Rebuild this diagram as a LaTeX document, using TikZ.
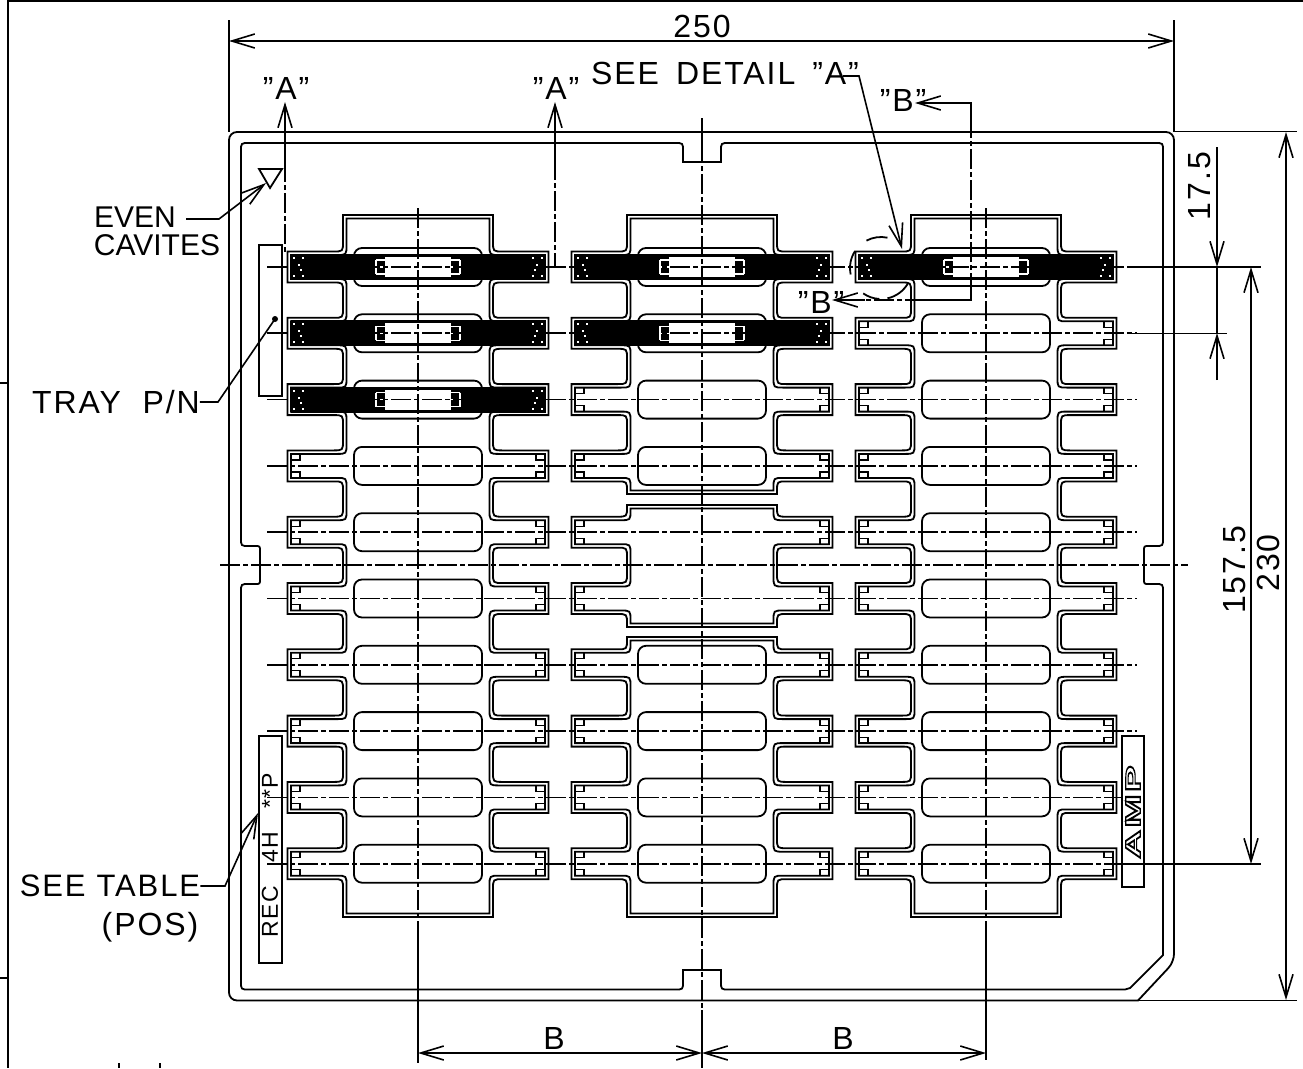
\documentclass[tikz,border=0pt]{standalone}
\usepackage{fontspec}
\usepackage{graphicx}
\setmainfont{Liberation Sans}[LetterSpace=6]
\usetikzlibrary{arrows.meta}

\tikzset{
    tray/.style={line width=1.8pt},
    thinline/.style={line width=1.6pt},
    centerline/.style={line width=1.7pt, dash pattern=on 20pt off 3pt on 5pt off 3pt},
    cadtext/.style={inner sep=0pt, font=\fontsize{32}{32}\selectfont},
    smalltext/.style={inner sep=0pt, font=\fontsize{23}{23}\selectfont},
    >={Straight Barb[length=23pt,width=14pt]}
}

% one connected outline of a cavity column: center, first row, last row, top, bottom
\newcommand{\cavityblock}[5]{
    \foreach \d in {0,3.5} {
        \draw[tray] ({#1-75+\d},{#4+\d}) -- ({#1+75-\d},{#4+\d})
            \foreach \k [evaluate=\k as \Y using 267+66.3*(\k-1)] in {#2,...,#3} {
                -- ({#1+75-\d},{\Y-25.5+\d}) .. controls ({#1+75-\d},{\Y-15.5+\d}) .. ({#1+85-\d},{\Y-15.5+\d})
                -- ({#1+130.5-\d},{\Y-15.5+\d}) -- ({#1+130.5-\d},{\Y+15.5-\d})
                -- ({#1+85-\d},{\Y+15.5-\d}) .. controls ({#1+75-\d},{\Y+15.5-\d}) .. ({#1+75-\d},{\Y+25.5-\d})
            }
            -- ({#1+75-\d},{#5-\d}) -- ({#1-75+\d},{#5-\d})
            \foreach \k [evaluate=\k as \Y using 267+66.3*(\k-1)] in {#3,...,#2} {
                -- ({#1-75+\d},{\Y+25.5-\d}) .. controls ({#1-75+\d},{\Y+15.5-\d}) .. ({#1-85+\d},{\Y+15.5-\d})
                -- ({#1-130.5+\d},{\Y+15.5-\d}) -- ({#1-130.5+\d},{\Y-15.5+\d})
                -- ({#1-85+\d},{\Y-15.5+\d}) .. controls ({#1-75+\d},{\Y-15.5+\d}) .. ({#1-75+\d},{\Y-25.5+\d})
            }
            -- cycle;
    }
}

% empty cavity: small tabs at both bar ends
\newcommand{\cavitytabs}[2]{
    \foreach \s in {-1,1} {
        \draw[line width=1.2pt] ({#1+\s*127},{#2-6}) -- ({#1+\s*118},{#2-6}) -- ({#1+\s*118},{#2-12});
        \draw[line width=1.2pt] ({#1+\s*127},{#2+6}) -- ({#1+\s*118},{#2+6}) -- ({#1+\s*118},{#2+12});
    }
}

% cavity holding a part
\newcommand{\filledcavity}[2]{
    \fill ({#1-127.5},{#2-13}) rectangle ({#1+127.5},{#2+13});
    \fill[white] ({#1-33},{#2-10}) rectangle ({#1+33},{#2+10});
    \foreach \s in {-1,1} {
        \draw[white, line width=1.1pt] ({#1+\s*42},{#2-7}) -- ({#1+\s*33},{#2-7});
        \draw[white, line width=1.1pt] ({#1+\s*42},{#2}) -- ({#1+\s*33},{#2});
        \draw[white, line width=1.1pt] ({#1+\s*42},{#2+7}) -- ({#1+\s*33},{#2+7});
        \draw[white, line width=1.1pt] ({#1+\s*42},{#2-7}) -- ({#1+\s*42},{#2+7});
        \foreach \dx/\dy in {124/-9,115/-9,124/9,115/9,119/-2,117/3} {
            \fill[white] ({#1+\s*\dx-1},{#2+\dy-1}) rectangle ({#1+\s*\dx+1},{#2+\dy+1});
        }
    }
}

\begin{document}
\begin{tikzpicture}[x=1pt, y=-1pt]
    \useasboundingbox (0,0) rectangle (1303,1068);

    % sheet frame
    \draw[tray] (1303,0.7) -- (8,0.7) -- (8,1068);
    \draw[thinline] (0,383) -- (8,383);
    \draw[thinline] (0,978) -- (8,978);
    \draw[thinline] (119,1063) -- (119,1068);
    \draw[thinline] (160,1063) -- (160,1068);

    % tray outline
    \draw[tray, rounded corners=8pt] (229,132) -- (1174,132) -- (1174,962) [sharp corners] -- (1138,1000.5) [rounded corners=8pt] -- (229,1000.5) -- cycle;
    \draw[tray] (249,143) -- (675,143) .. controls (683,143) .. (683,151) -- (683,162) -- (721,162) -- (721,151) .. controls (721,143) .. (729,143)
        -- (1155,143) .. controls (1163,143) .. (1163,151)
        -- (1163,538) .. controls (1163,546) .. (1155,546) -- (1149,546) .. controls (1144,546) .. (1144,551) -- (1144,579) .. controls (1144,584) .. (1149,584) -- (1155,584) .. controls (1163,584) .. (1163,592)
        -- (1163,955) -- (1130,988) .. controls (1128,989.5) .. (1125,989.5) -- (729,989.5) .. controls (721,989.5) .. (721,981.5) -- (721,970) -- (683,970) -- (683,981.5) .. controls (683,989.5) .. (675,989.5)
        -- (249,989.5) .. controls (241,989.5) .. (241,981.5)
        -- (241,592) .. controls (241,584) .. (249,584) -- (255,584) .. controls (260,584) .. (260,579) -- (260,551) .. controls (260,546) .. (255,546) -- (249,546) .. controls (241,546) .. (241,538)
        -- (241,151) .. controls (241,143) .. (249,143) -- cycle;

    % cavity columns
    \cavityblock{418}{1}{10}{215}{917}
    \cavityblock{702}{1}{4}{215}{494}
    \cavityblock{702}{5}{6}{505}{627}
    \cavityblock{702}{7}{10}{637}{917}
    \cavityblock{986}{1}{10}{215}{917}

    % pockets
    \foreach \cx/\rows in {418/{1,...,10}, 702/{1,2,3,4,7,8,9,10}, 986/{1,...,10}} {
        \foreach \k [evaluate=\k as \Y using 267+66.3*(\k-1)] in \rows {
            \draw[tray, rounded corners=8pt] ({\cx-64},{\Y-19}) rectangle ({\cx+64},{\Y+19});
        }
    }

    % tabs of the empty cavities
    \foreach \k [evaluate=\k as \Y using 267+66.3*(\k-1)] in {4,...,10} { \cavitytabs{418}{\Y} }
    \foreach \k [evaluate=\k as \Y using 267+66.3*(\k-1)] in {3,...,10} { \cavitytabs{702}{\Y} }
    \foreach \k [evaluate=\k as \Y using 267+66.3*(\k-1)] in {2,...,10} { \cavitytabs{986}{\Y} }

    % filled cavities
    \foreach \k [evaluate=\k as \Y using 267+66.3*(\k-1)] in {1,2,3} { \filledcavity{418}{\Y} }
    \foreach \k [evaluate=\k as \Y using 267+66.3*(\k-1)] in {1,2} { \filledcavity{702}{\Y} }
    \filledcavity{986}{267}

    % center lines
    \foreach \k [evaluate=\k as \Y using 267+66.3*(\k-1)] in {1,...,8,10} {
        \draw[centerline] (267,\Y) -- (1137,\Y);
    }
    \draw[centerline] (267,797.4) -- (1122,797.4);
    \draw[centerline] (220,565) -- (1188,565);
    \draw[centerline] (418,208) -- (418,933);
    \draw[centerline] (702,143) -- (702,1010);
    \draw[centerline] (986,208) -- (986,933);

    % marking fields
    \draw[thinline] (259,245) rectangle (282,396);
    \draw[thinline] (259,736) rectangle (282,963);
    \draw[thinline] (1122,736) rectangle (1144,887);
    \node[smalltext, rotate=90] (rec) at (270,855) {REC\ \ \ 4H\ \ \ **P};
    \node[inner sep=0pt, rotate=90, font=\fontsize{21}{21}\selectfont\bfseries] (amp) at (1133,812)
        {\special{pdf:code 1 Tr 1.1 w}\scalebox{1.9}[1]{AMP}\special{pdf:code 0 Tr}};
    \draw[tray] (259,169) -- (282,169) -- (270,188) -- cycle;

    % extension lines
    \draw[thinline] (229,20) -- (229,132);
    \draw[thinline] (1174,20) -- (1174,132);
    \draw[thinline] (1174,131.5) -- (1297,131.5);
    \draw[thinline] (1138,1000.5) -- (1297,1000.5);
    \draw[thinline] (1130,267) -- (1261,267);
    \draw[thinline] (1130,333.3) -- (1227,333.3);
    \draw[thinline] (1115,863.7) -- (1261,863.7);
    \draw[thinline] (418,933) -- (418,1063);
    \draw[thinline] (702,1010) -- (702,1068);
    \draw[thinline] (702,118) -- (702,143);
    \draw[thinline] (986,933) -- (986,1060);

    % dimensions
    \node[cadtext] (wide) at (702,26) {250};
    \draw[thinline, <->] (229,41) -- (1174,41);
    \node[cadtext, rotate=90] (high) at (1268,563) {230};
    \draw[thinline, <->] (1286,132) -- (1286,1000);
    \node[cadtext, rotate=90] (pitchall) at (1235,570) {157.5};
    \draw[thinline, <->] (1251,267) -- (1251,864);
    \node[cadtext, rotate=90] (pitch) at (1200,186) {17.5};
    \draw[thinline, ->] (1217,147) -- (1217,267);
    \draw[thinline] (1217,267) -- (1217,333);
    \draw[thinline, ->] (1217,380) -- (1217,333);
    \node[cadtext] (bleft) at (554,1038) {B};
    \node[cadtext] (bright) at (843,1038) {B};
    \draw[thinline, <->] (418,1053) -- (702,1053);
    \draw[thinline, <->] (702,1053) -- (986,1053);

    % section lines
    \node[cadtext] (seca) at (286,88) {”A”};
    \node[cadtext] (secb) at (556,88) {”A”};
    \coordinate (secaend) at (285,162);
    \coordinate (secbend) at (555,160);
    \draw[thinline, ->] (secaend) -- (285,102);
    \draw[thinline, ->] (secbend) -- (555,102);
    \draw[centerline] (secaend) -- (285,252);
    \draw[centerline] (secbend) -- (555,267);
    \node[cadtext] (secc) at (903,100) {”B”};
    \node[cadtext] (secd) at (821,302) {”B”};
    \coordinate (secca) at (971,118);
    \coordinate (seccb) at (971,280);
    \coordinate (seccc) at (865,300);
    \draw[thinline, ->] (secca) -- (971,103) -- (915,103);
    \draw[centerline] (secca) -- (seccb);
    \draw[thinline] (seccb) -- (971,300) -- (925,300);
    \draw[centerline] (925,300) -- (seccc);
    \draw[thinline, ->] (seccc) -- (832,300);

    % detail circle
    \coordinate (detail) at (881,268);
    \foreach \a/\b in {-118/-78, 168/213, 125/93, 78/28} {
        \draw[tray] (detail) ++(\a:31) arc (\a:\b:31);
    }

    % notes
    \node[cadtext] (seedetail) at (725,73) {SEE\hspace{17pt}DETAIL\hspace{17pt}”A”};
    \coordinate (seedetailknee) at (859,76);
    \draw[thinline, ->] (843,76) -- (seedetailknee) -- (902,249);

    \node[cadtext, font=\fontsize{30}{30}\selectfont\addfontfeatures{LetterSpace=0}] (even) at (135,217) {EVEN};
    \node[cadtext, font=\fontsize{30}{30}\selectfont\addfontfeatures{LetterSpace=0}] (cavites) at (157,245) {CAVITES};
    \coordinate (evenknee) at (219,219);
    \coordinate (evenmark) at (266,183);
    \draw[thinline, ->] (186,219) -- (evenknee) -- (evenmark);

    \node[cadtext] (traypn) at (116,402) {TRAY\ \ P/N};
    \coordinate (trayknee) at (218,402);
    \coordinate (traydot) at (275,319);
    \draw[thinline] (traypn.east) -- (trayknee) -- (traydot);
    \fill (traydot) circle (3pt);

    \node[cadtext, font=\fontsize{31}{31}\selectfont] (seetable) at (110,886) {SEE\hspace{11pt}TABLE};
    \node[cadtext] (pos) at (150,927) {(POS)};
    \coordinate (tableknee) at (225,886);
    \coordinate (tablemark) at (258,813);
    \draw[thinline, ->] (seetable.east) -- (tableknee) -- (tablemark);
\end{tikzpicture}
\end{document}
